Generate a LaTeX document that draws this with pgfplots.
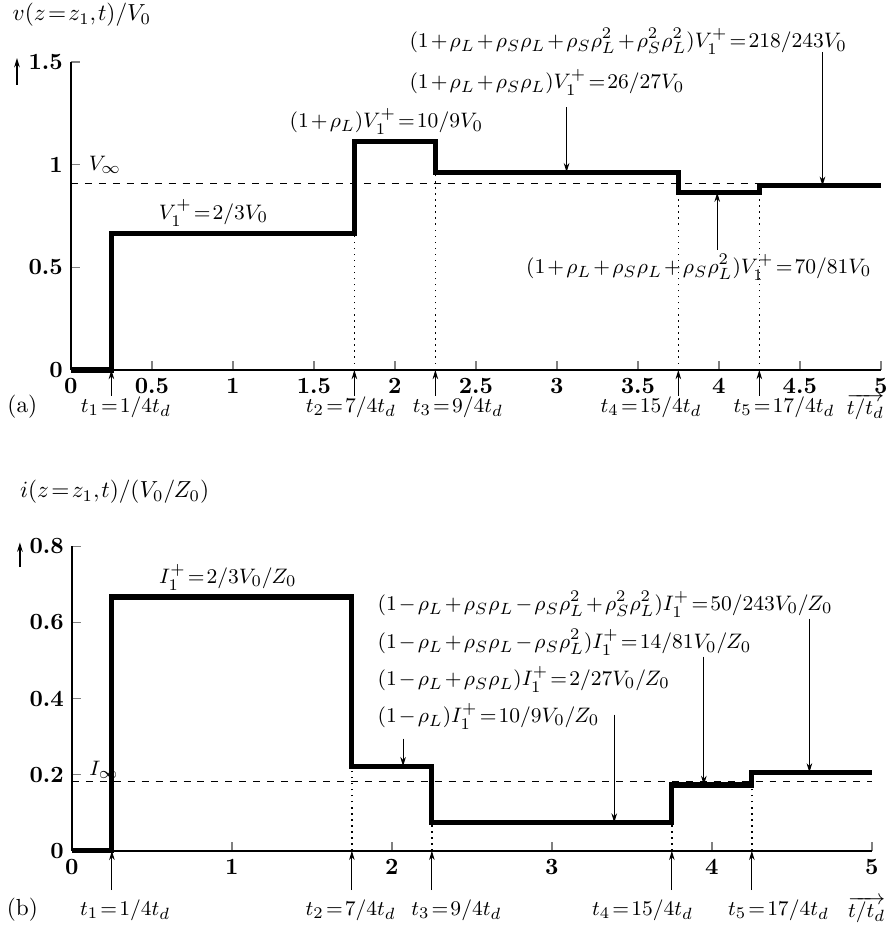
\documentclass[border=0pt]{standalone}
\usepackage{pgfplots}
\pgfplotsset{compat=1.18}
\usetikzlibrary{arrows.meta}

\pgfplotsset{
  tl/.style={scale only axis, clip=false,
    axis x line=bottom, axis y line=left,
    axis line style={-, line width=0.6pt},
    tick align=inside, major tick length=4pt,
    tick style={line width=0.6pt},
    tick label style={font=\boldmath},
    xmin=0, xmax=5, ymin=0,
    every node/.append style={inner sep=1pt}},
  step/.style={const plot, line width=2.2pt, line join=miter, no marks},
}
\tikzset{
  ar/.style={-{Stealth[length=4pt,width=2.4pt]}, line width=0.4pt},
  lb/.style={font=\fontsize{9.4pt}{11pt}\selectfont},
  lw/.style={lb, anchor=west},
}

\begin{document}
\thinmuskip=1.5mu \medmuskip=1.8mu \thickmuskip=1.8mu
\begin{tikzpicture}
\useasboundingbox (-30.5pt,-243pt) rectangle (350.9pt,159.1pt);

% (a) voltage
\begin{axis}[tl, at={(0,0)}, anchor=south west,
  width=348.3pt, height=132.4pt, ymax=1.5,
  xtick={0,0.5,...,5}, ytick={0,0.5,1,1.5}]
\addplot[step] coordinates {(0,0) (0.25,0.6667) (1.75,1.1111) (2.25,0.9630) (3.75,0.8642) (4.25,0.8971) (5,0.8971)};
\addplot[ycomb, dotted, line width=0.6pt, no marks] coordinates {(1.75,0.6667) (2.25,0.9630) (3.75,0.8642) (4.25,0.8642)};
\addplot[dashed, line width=0.5pt, no marks] coordinates {(0,0.9091) (5,0.9091)};

\node[anchor=west] at (axis cs:-0.41,1.73) {$v(z=z_1,t)/V_0$};
\draw[ar, line width=0.8pt] (axis cs:-0.333,1.39) -- (axis cs:-0.333,1.52);
\node[lw] at (axis cs:2.04,1.60) {$(1+\rho_L+\rho_S\rho_L+\rho_S\rho_L^2+\rho_S^2\rho_L^2)V_1^+=218/243V_0$};
\node[lw] at (axis cs:2.04,1.40) {$(1+\rho_L+\rho_S\rho_L)V_1^+=26/27V_0$};
\node[lw] at (axis cs:1.30,1.21) {$(1+\rho_L)V_1^+=10/9V_0$};
\node[lb] at (axis cs:0.88,0.765) {$V_1^+=2/3V_0$};
\node[lb] at (axis cs:0.21,1.0) {$V_\infty$};
\node[lw] at (axis cs:2.76,0.50) {$(1+\rho_L+\rho_S\rho_L+\rho_S\rho_L^2)V_1^+=70/81V_0$};
\draw[ar] (axis cs:4.64,1.55) -- (axis cs:4.64,0.8971);
\draw[ar] (axis cs:3.06,1.28) -- (axis cs:3.06,0.9630);
\draw[ar] (axis cs:3.99,0.585) -- (axis cs:3.99,0.8642);
\foreach \t in {0.25,1.75,2.25,3.75,4.25}{
  \edef\temp{\noexpand\draw[ar] (axis cs:\t,-0.125) -- (axis cs:\t,0);}\temp}
\node at (axis cs:-0.30,-0.18) {(a)};
\node[lw] at (axis cs:0.01,-0.18) {$t_1=1/4t_d$};
\node[lw] at (axis cs:1.40,-0.18) {$t_2=7/4t_d$};
\node[lw] at (axis cs:2.06,-0.18) {$t_3=9/4t_d$};
\node[lw] at (axis cs:3.22,-0.18) {$t_4=15/4t_d$};
\node[lw] at (axis cs:4.04,-0.18) {$t_5=17/4t_d$};
\node[lw] at (axis cs:4.74,-0.18) {$\overrightarrow{t/t_d}$};
\end{axis}

% (b) current
\begin{axis}[tl, at={(0.43pt,-206.8pt)}, anchor=south west,
  width=344pt, height=131pt, ymax=0.8,
  xtick={0,1,...,5}, ytick={0,0.2,...,0.8}]
\addplot[step] coordinates {(0,0) (0.25,0.6667) (1.75,0.2222) (2.25,0.0741) (3.75,0.1728) (4.25,0.2058) (5,0.2058)};
\addplot[ycomb, dotted, line width=0.6pt, no marks] coordinates {(1.75,0.2222) (2.25,0.0741) (3.75,0.0741) (4.25,0.1728)};
\addplot[dashed, line width=0.5pt, no marks] coordinates {(0,0.1818) (5,0.1818)};

\node[anchor=west] at (axis cs:-0.375,0.942) {$i(z=z_1,t)/(V_0/Z_0)$};
\draw[ar, line width=0.8pt] (axis cs:-0.325,0.745) -- (axis cs:-0.325,0.81);
\node[lb] at (axis cs:0.975,0.718) {$I_1^+=2/3V_0/Z_0$};
\node[lw] at (axis cs:1.86,0.647) {$(1-\rho_L+\rho_S\rho_L-\rho_S\rho_L^2+\rho_S^2\rho_L^2)I_1^+=50/243V_0/Z_0$};
\node[lw] at (axis cs:1.86,0.547) {$(1-\rho_L+\rho_S\rho_L-\rho_S\rho_L^2)I_1^+=14/81V_0/Z_0$};
\node[lw] at (axis cs:1.86,0.450) {$(1-\rho_L+\rho_S\rho_L)I_1^+=2/27V_0/Z_0$};
\node[lw] at (axis cs:1.86,0.353) {$(1-\rho_L)I_1^+=10/9V_0/Z_0$};
\node[lb] at (axis cs:0.2,0.213) {$I_\infty$};
\draw[ar] (axis cs:2.07,0.295) -- (axis cs:2.07,0.2222);
\draw[ar] (axis cs:3.39,0.358) -- (axis cs:3.39,0.0741);
\draw[ar] (axis cs:3.95,0.51) -- (axis cs:3.95,0.1728);
\draw[ar] (axis cs:4.61,0.61) -- (axis cs:4.61,0.2058);
\foreach \t in {0.25,1.75,2.25,3.75,4.25}{
  \edef\temp{\noexpand\draw[ar] (axis cs:\t,-0.103) -- (axis cs:\t,0);}\temp}
\node at (axis cs:-0.31,-0.155) {(b)};
\node[lw] at (axis cs:0.0,-0.155) {$t_1=1/4t_d$};
\node[lw] at (axis cs:1.41,-0.155) {$t_2=7/4t_d$};
\node[lw] at (axis cs:2.07,-0.155) {$t_3=9/4t_d$};
\node[lw] at (axis cs:3.20,-0.155) {$t_4=15/4t_d$};
\node[lw] at (axis cs:4.05,-0.155) {$t_5=17/4t_d$};
\node[lw] at (axis cs:4.80,-0.155) {$\overrightarrow{t/t_d}$};
\end{axis}
\end{tikzpicture}
\end{document}
